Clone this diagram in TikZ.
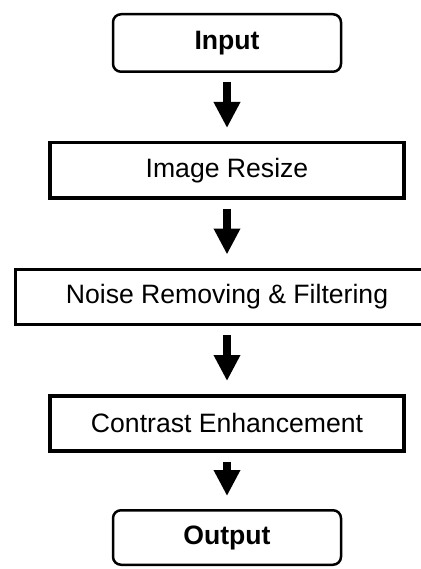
\documentclass[tikz,border=0pt]{standalone}
\usepackage{fontspec}
\setmainfont{Liberation Sans}
\usetikzlibrary{positioning,arrows.meta}

\begin{document}
\begin{tikzpicture}[
  x=1pt, y=-1pt,
  node distance=68pt,
  every node/.style={font=\fontsize{26.6}{32}\selectfont},
  endbox/.style={draw, rounded corners=8pt, line width=2.5pt, minimum width=228pt, minimum height=57.5pt, font=\fontsize{26.6}{32}\selectfont\bfseries},
  procbox/.style={draw, line width=3.5pt, minimum width=354pt, minimum height=55pt},
  flow/.style={-{Triangle[width=25pt,length=26pt]}, line width=8pt, shorten <=9pt, shorten >=13pt}
]
\useasboundingbox (0,0) rectangle (420,569);
\node[endbox] (input) at (227,43) {Input};
\node[procbox, below=of input] (resize) {Image Resize};
\node[procbox, minimum width=423pt, below=of resize] (noise) {Noise Removing \& Filtering};
\node[procbox, below=of noise] (contrast) {Contrast Enhancement};
\node[endbox, minimum height=54.5pt, below=56.5pt of contrast] (output) {Output};

\draw[flow] (input) -- (resize);
\draw[flow] (resize) -- (noise);
\draw[flow] (noise) -- (contrast);
\draw[flow] (contrast) -- (output);
\end{tikzpicture}
\end{document}
